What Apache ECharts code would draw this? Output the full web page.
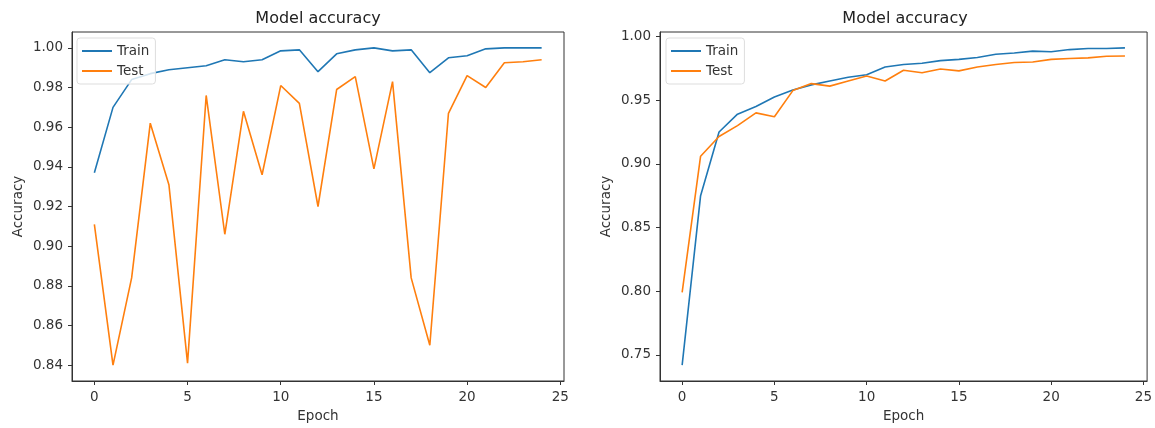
<!DOCTYPE html>
<html>
<head>
<meta charset="utf-8">
<style>
  html, body { margin: 0; padding: 0; background: #fff; }
  #main { width: 1155px; height: 428px; }
</style>
</head>
<body>
<div id="main"></div>
<script src="https://cdn.jsdelivr.net/npm/echarts@6/dist/echarts.min.js"></script>
<script type="text/javascript">
    // epochs 0..24
    var epochs = [0,1,2,3,4,5,6,7,8,9,10,11,12,13,14,15,16,17,18,19,20,21,22,23,24];

    // left chart
    var trainLeft = [0.937,0.970,0.984,0.987,0.989,0.990,0.991,0.994,0.993,0.994,0.9985,0.999,0.988,0.997,0.999,1.000,0.9985,0.999,0.9875,0.995,0.996,0.9995,1.000,1.000,1.000];
    var testLeft  = [0.911,0.840,0.884,0.962,0.931,0.841,0.976,0.906,0.968,0.936,0.981,0.972,0.920,0.979,0.9855,0.939,0.983,0.884,0.850,0.967,0.986,0.980,0.9925,0.993,0.994];

    // right chart
    var trainRight = [0.742,0.875,0.925,0.939,0.945,0.9525,0.958,0.962,0.965,0.968,0.970,0.976,0.978,0.979,0.981,0.982,0.9835,0.986,0.987,0.9885,0.988,0.9897,0.9905,0.9905,0.991];
    var testRight  = [0.799,0.906,0.9215,0.930,0.940,0.937,0.9575,0.963,0.961,0.965,0.969,0.965,0.9735,0.9715,0.9745,0.973,0.976,0.978,0.9795,0.980,0.982,0.9827,0.9832,0.9845,0.9847];

    var xTicks = [0,5,10,15,20,25];
    var yTicksLeft = [0.84,0.86,0.88,0.90,0.92,0.94,0.96,0.98,1.00];
    var yTicksRight = [0.75,0.80,0.85,0.90,0.95,1.00];

    function pairs(ys) {
        var out = [];
        for (var i = 0; i < epochs.length; i++) out.push([epochs[i], ys[i]]);
        return out;
    }

    var txt = '#333';
    var fnt = 'DejaVu Sans';
    var fs = 13.5;

    function xAxisCfg(gi) {
        return {
            type: 'value', gridIndex: gi, min: -1.2, max: 25.2,
            name: 'Epoch', nameLocation: 'middle', nameGap: 28,
            nameTextStyle: { color: txt, fontSize: fs, fontFamily: fnt },
            splitLine: { show: false },
            axisLine: { show: true, onZero: false, lineStyle: { color: '#333' } },
            axisTick: { show: true, length: 4, customValues: xTicks, lineStyle: { color: '#333' } },
            axisLabel: { color: txt, fontSize: fs, fontFamily: fnt, margin: 9, customValues: xTicks }
        };
    }
    function yAxisCfg(gi, mn, mx, ticks) {
        return {
            type: 'value', gridIndex: gi, min: mn, max: mx,
            name: 'Accuracy', nameLocation: 'middle', nameGap: 47, nameRotate: 90,
            nameTextStyle: { color: txt, fontSize: fs, fontFamily: fnt },
            splitLine: { show: false },
            axisLine: { show: true, onZero: false, lineStyle: { color: '#333' } },
            axisTick: { show: true, length: 4, customValues: ticks, lineStyle: { color: '#333' } },
            axisLabel: { color: txt, fontSize: fs, fontFamily: fnt, margin: 9, customValues: ticks,
                formatter: function (v) { return v.toFixed(2); } }
        };
    }
    function line(name, gi, ys, color) {
        return {
            name: name, type: 'line', xAxisIndex: gi, yAxisIndex: gi,
            data: pairs(ys), symbol: 'none', lineStyle: { color: color, width: 1.6 },
            itemStyle: { color: color }
        };
    }
    function legendCfg(left) {
        return {
            data: ['Train', 'Test'], orient: 'vertical', left: left, top: 38,
            icon: 'rect', itemWidth: 30, itemHeight: 2, itemGap: 6,
            padding: [6, 6, 6, 5], borderColor: '#ddd', borderWidth: 1, borderRadius: 3,
            backgroundColor: 'rgba(255,255,255,0.8)',
            textStyle: { color: txt, fontSize: fs, fontFamily: fnt }
        };
    }

    var myChart = echarts.init(document.getElementById('main'));
    var option = {
        animation: false,
        title: [
            { text: 'Model accuracy', left: 318, top: 11, padding: 0, textAlign: 'center',
              textStyle: { fontSize: 16, fontWeight: 'normal', color: '#222', fontFamily: fnt } },
            { text: 'Model accuracy', left: 905, top: 11, padding: 0, textAlign: 'center',
              textStyle: { fontSize: 16, fontWeight: 'normal', color: '#222', fontFamily: fnt } }
        ],
        legend: [legendCfg(77), legendCfg(666)],
        grid: [
            { left: 72, top: 32, width: 492, height: 351, show: true, borderColor: '#333', borderWidth: 1 },
            { left: 660, top: 32, width: 491, height: 351, show: true, borderColor: '#333', borderWidth: 1 }
        ],
        xAxis: [xAxisCfg(0), xAxisCfg(1)],
        yAxis: [yAxisCfg(0, 0.832, 1.008, yTicksLeft), yAxisCfg(1, 0.7295, 1.0035, yTicksRight)],
        series: [
            line('Train', 0, trainLeft, '#1f77b4'),
            line('Test', 0, testLeft, '#ff7f0e'),
            line('Train', 1, trainRight, '#1f77b4'),
            line('Test', 1, testRight, '#ff7f0e')
        ]
    };
    myChart.setOption(option);
</script>
</body>
</html>
